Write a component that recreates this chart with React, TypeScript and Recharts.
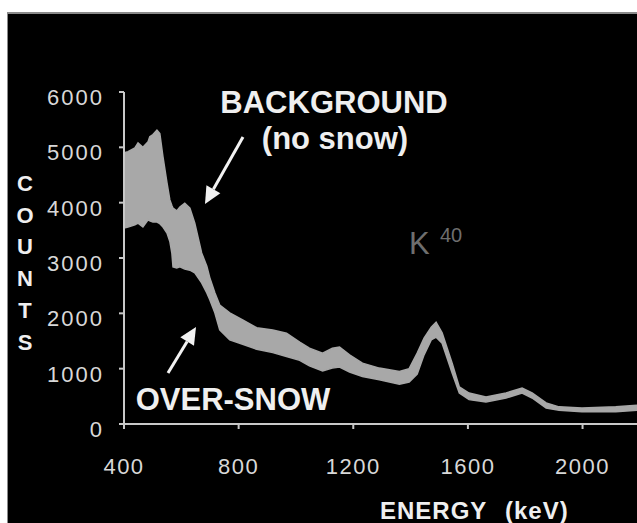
import React from "react";
import { AreaChart, Area, XAxis, YAxis } from "recharts";

// gamma spectrum: band between background (no snow) and over-snow counts
const energy = [
  400, 414, 438, 449, 466, 484, 490, 501, 515, 525, 536, 550, 560, 567, 571, 584,
  595, 612, 630, 647, 671, 689, 699, 717, 734, 769, 814, 863, 919, 967, 1013, 1047,
  1093, 1127, 1152, 1187, 1232, 1291, 1361, 1395, 1423, 1447, 1472, 1489, 1510,
  1545, 1570, 1604, 1663, 1733, 1789, 1824, 1873, 1918, 1998, 2116, 2190,
];
const background = [
  4900, 4920, 4990, 5080, 5000, 5100, 5190, 5230, 5310, 5250, 4830, 4360, 4050, 3950,
  3900, 3850, 3920, 3990, 3900, 3630, 3090, 2850, 2650, 2370, 2150, 2010, 1880, 1740,
  1700, 1640, 1480, 1370, 1280, 1370, 1390, 1250, 1100, 1010, 950, 1000, 1280, 1550,
  1750, 1840, 1650, 1100, 670, 560, 490, 560, 650, 560, 380, 310, 290, 310, 340,
];
const overSnow = [
  3540, 3560, 3600, 3630, 3560, 3690, 3670, 3650, 3650, 3620, 3560, 3450, 3300, 3090,
  2840, 2820, 2840, 2800, 2780, 2730, 2550, 2370, 2250, 2010, 1700, 1520, 1440, 1350,
  1290, 1220, 1150, 1050, 960, 1010, 1030, 940, 860, 800, 720, 760, 900, 1250, 1520,
  1570, 1460, 920, 560, 440, 400, 470, 560, 470, 290, 250, 220, 220, 250,
];
const xTicks = [400, 800, 1200, 1600, 2000];
const yTicks = [0, 1000, 2000, 3000, 4000, 5000, 6000];
const yLetters = ["C", "O", "U", "N", "T", "S"];

const rows = energy.map((e, i) => ({ energy: e, band: [overSnow[i], background[i]] }));

const FONT = "'Liberation Sans', Arial, sans-serif";
const LIGHT = "#d8d8d8";

const YTick = ({ x, y, payload }: any) => (
  <text x={x + 2} y={y + 13} textAnchor="end" fill={LIGHT} fontSize={22} fontFamily={FONT} letterSpacing={2}>
    {payload.value}
  </text>
);

const XTick = ({ x, y, payload }: any) => (
  <text x={x} y={y + 35} textAnchor="middle" fill={LIGHT} fontSize={22} fontFamily={FONT} letterSpacing={1.5}>
    {payload.value}
  </text>
);

const Arrow = ({ x1, y1, x2, y2 }: { x1: number; y1: number; x2: number; y2: number }) => {
  const a = Math.atan2(y2 - y1, x2 - x1);
  const len = 17;
  const w = 8;
  const bx = x2 - len * Math.cos(a);
  const by = y2 - len * Math.sin(a);
  const px = -Math.sin(a) * w;
  const py = Math.cos(a) * w;
  return (
    <g>
      <line x1={x1} y1={y1} x2={bx} y2={by} stroke="#f2f2f2" strokeWidth={3} />
      <polygon points={`${x2},${y2} ${bx + px},${by + py} ${bx - px},${by - py}`} fill="#f2f2f2" />
    </g>
  );
};

export default function App() {
  return (
    <div style={{ position: "absolute", left: 0, top: 0, width: 637, height: 523, overflow: "hidden", background: "#fff" }}>
      <div
        style={{
          position: "absolute",
          left: 7,
          top: 12,
          width: 630,
          height: 511,
          background: "#000",
          borderTop: "2px solid #8a8a8a",
          borderLeft: "1px solid #8a8a8a",
          boxSizing: "border-box",
        }}
      />
      <div style={{ position: "absolute", left: 0, top: 0 }}>
        <AreaChart width={637} height={523} data={rows} margin={{ top: 92, right: 0, left: 44, bottom: 39 }}>
          <XAxis
            dataKey="energy"
            type="number"
            domain={[400, 2190]}
            ticks={xTicks}
            allowDataOverflow
            height={60}
            stroke="#c8c8c8"
            strokeWidth={2}
            tickSize={5}
            tickMargin={10}
            tick={<XTick />}
          />
          <YAxis
            domain={[0, 6000]}
            ticks={yTicks}
            width={80}
            stroke="#c8c8c8"
            strokeWidth={2}
            tickSize={5}
            tickMargin={17}
            tick={<YTick />}
          />
          <Area
            type="linear"
            dataKey="band"
            fill="#a8a8a8"
            fillOpacity={1}
            stroke="#a8a8a8"
            strokeWidth={1.5}
            isAnimationActive={false}
          />
        </AreaChart>
      </div>
      <svg width={637} height={523} style={{ position: "absolute", left: 0, top: 0, pointerEvents: "none" }}>
        <g fontFamily={FONT} fontWeight="bold" fill="#efefef">
          <text x={334} y={113} textAnchor="middle" fontSize={31}>BACKGROUND</text>
          <text x={335} y={149} textAnchor="middle" fontSize={31}>(no snow)</text>
          <text x={233} y={410} textAnchor="middle" fontSize={31}>OVER-SNOW</text>
          <text x={380} y={519} fontSize={24} letterSpacing={1}>ENERGY</text>
          <text x={505} y={519} fontSize={24} letterSpacing={1}>(keV)</text>
          {yLetters.map((c, i) => (
            <text key={c} x={25} y={191 + i * 31.7} textAnchor="middle" fontSize={22}>{c}</text>
          ))}
        </g>
        <g fontFamily={FONT} fill="#6e6e6e">
          <text x={409} y={254} fontSize={31}>K</text>
          <text x={440} y={242} fontSize={20}>40</text>
        </g>
        <Arrow x1={243} y1={137} x2={205} y2={204} />
        <Arrow x1={168} y1={373} x2={196} y2={327} />
      </svg>
    </div>
  );
}
